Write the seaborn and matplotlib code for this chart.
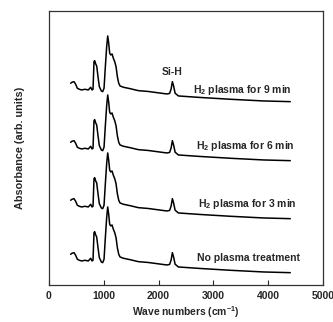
import numpy as np
import pandas as pd
import matplotlib
matplotlib.use('Agg')
import matplotlib.pyplot as plt
import seaborn as sns

# Dados (espectro FTIR, unidades arbitrarias)
wavenumber = [396, 420, 457, 487, 518, 554, 597, 658, 718, 761, 786, 804,
              822, 834, 853, 871, 895, 919, 956, 980, 1005, 1029, 1053, 1072,
              1090, 1108, 1127, 1151, 1175, 1200, 1224, 1248, 1273, 1297, 1358,
              1480, 1632, 1809, 2150, 2201, 2229, 2252, 2274, 2302, 2362, 2758,
              3307, 3915, 4403]
absorbance = [0.307, 0.317, 0.323, 0.297, 0.257, 0.247, 0.240, 0.247, 0.240,
              0.267, 0.240, 0.247, 0.523, 0.533, 0.500, 0.480, 0.373, 0.273,
              0.230, 0.223, 0.257, 0.473, 0.673, 0.780, 0.707, 0.607, 0.590,
              0.600, 0.557, 0.523, 0.473, 0.373, 0.307, 0.280, 0.267, 0.253,
              0.233, 0.225, 0.200, 0.205, 0.250, 0.323, 0.280, 0.207, 0.180,
              0.165, 0.147, 0.130, 0.123]

samples = ['No plasma treatment', 'H$_2$ plasma for 3 min',
           'H$_2$ plasma for 6 min', 'H$_2$ plasma for 9 min']
# deslocamento vertical de cada curva (empilhamento)
offsets = [0.0, 0.54, 1.12, 1.71]
label_x = [2704, 2722, 2685, 2630]
label_y = [0.27, 0.81, 1.393, 1.95]

sns.set_style("ticks")
plt.rcParams['font.family'] = ['Liberation Sans', 'DejaVu Sans']
plt.rcParams['mathtext.fontset'] = 'custom'
plt.rcParams['mathtext.rm'] = 'Liberation Sans:bold'
plt.rcParams['mathtext.bf'] = 'Liberation Sans:bold'

rows = []
for name, off in zip(samples, offsets):
    for w, a in zip(wavenumber, absorbance):
        rows.append({'sample': name, 'wn': w, 'abs': a + off})
df = pd.DataFrame(rows)

fig = plt.figure(figsize=(3.33, 3.22), dpi=100)
ax = fig.add_axes([0.147, 0.115, 0.823, 0.851])

sns.lineplot(data=df, x='wn', y='abs', units='sample', estimator=None,
             color='black', linewidth=1.1, ax=ax, legend=False)

for name, x, y in zip(samples, label_x, label_y):
    ax.text(x, y, name, fontsize=7.5, fontweight='bold', va='center', ha='left')
ax.text(2241, 2.133, 'Si-H', fontsize=7.5, fontweight='bold', va='center', ha='center')

ax.set_xlim(0, 5000)
ax.set_ylim(0, 2.74)
ax.set_xticks([0, 1000, 2000, 3000, 4000, 5000])
ax.set_yticks([])
ax.tick_params(axis='x', direction='in', length=3.5, width=0.8, labelsize=7.5, pad=4)
for lbl in ax.get_xticklabels():
    lbl.set_fontweight('bold')
for s in ax.spines.values():
    s.set_linewidth(0.9)
    s.set_color('#333333')

ax.set_xlabel('Wave numbers (cm$^{-1}$)', fontsize=7.4, fontweight='bold', labelpad=3)
ax.set_ylabel('Absorbance (arb. units)', fontsize=7.8, fontweight='bold', labelpad=17)

plt.savefig('out.png', dpi=100)
plt.close()
